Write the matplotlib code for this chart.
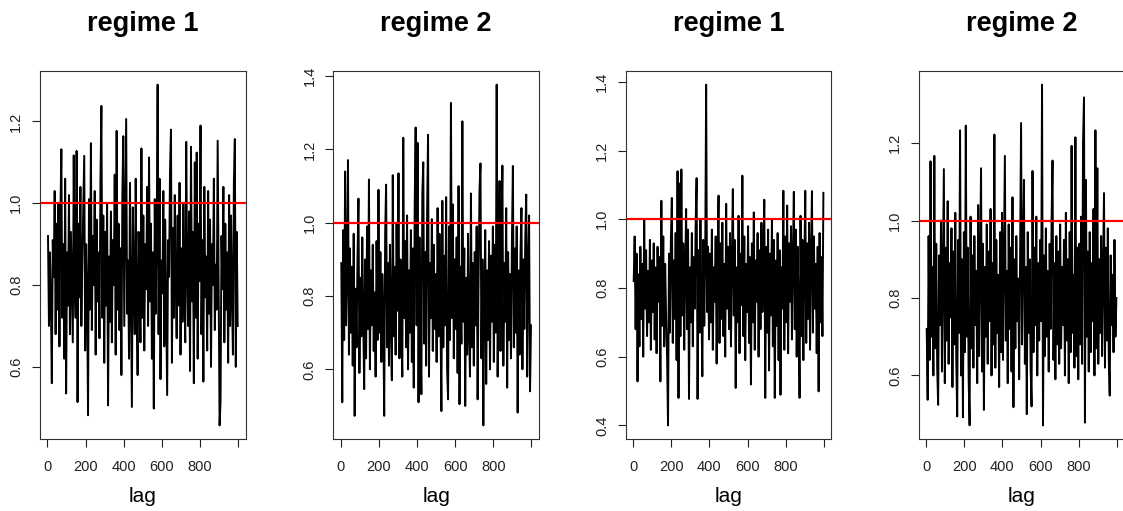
import numpy as np
import matplotlib
matplotlib.use("Agg")
import matplotlib.pyplot as plt
from matplotlib.ticker import MultipleLocator, FormatStrFormatter

plt.rcParams['font.family'] = ['Liberation Sans', 'DejaVu Sans']

# =============================================================================
# data: one value every 5 lags
# =============================================================================
titles = ['regime 1', 'regime 2', 'regime 1', 'regime 2']
lag = np.arange(200) * 5 + 3

trace1 = [
    0.92, 0.70, 0.88, 0.76, 0.56, 0.91, 0.82, 1.03, 0.68, 0.95,
    0.74, 1.00, 0.65, 0.97, 1.132, 0.72, 0.90, 0.62, 1.06, 0.535,
    0.88, 0.75, 1.02, 0.68, 0.93, 0.79, 0.66, 1.117, 0.81, 0.72,
    1.128, 0.514, 0.95, 0.77, 1.04, 0.70, 0.86, 0.99, 1.116, 0.64,
    0.90, 0.78, 0.482, 1.01, 0.74, 1.147, 0.69, 0.92, 0.80, 1.03,
    0.63, 0.96, 0.76, 0.88, 0.67, 1.05, 1.238, 0.72, 0.97, 0.61,
    0.93, 0.75, 1.00, 0.506, 0.87, 0.71, 0.98, 0.66, 0.91, 0.80,
    1.07, 0.63, 1.177, 0.74, 0.95, 0.69, 0.89, 0.58, 1.02, 1.164,
    0.70, 0.94, 1.206, 0.73, 0.86, 0.62, 1.05, 0.77, 0.502, 0.99,
    0.81, 0.68, 1.06, 0.75, 0.58, 0.93, 0.84, 0.66, 1.134, 0.72,
    0.97, 0.64, 0.90, 0.79, 1.04, 0.70, 1.112, 0.76, 0.95, 0.62,
    0.88, 0.498, 1.01, 0.73, 0.92, 1.29, 0.68, 1.06, 0.57, 0.86,
    0.78, 1.03, 0.65, 0.96, 0.74, 0.531, 0.91, 0.82, 1.08, 1.18,
    0.61, 0.94, 0.72, 1.02, 0.80, 0.67, 0.97, 0.75, 1.05, 0.63,
    0.89, 0.71, 1.00, 0.78, 0.66, 1.15, 0.84, 0.70, 0.98, 0.59,
    1.138, 0.76, 0.93, 0.56, 1.10, 0.72, 1.124, 0.62, 0.95, 0.81,
    1.19, 0.68, 0.91, 0.564, 1.04, 0.77, 0.87, 0.64, 1.03, 0.73,
    0.96, 0.60, 0.90, 0.80, 1.06, 0.69, 0.85, 0.74, 1.153, 0.82,
    0.457, 0.514, 0.92, 0.79, 1.04, 0.66, 0.95, 0.74, 0.88, 0.61,
    1.02, 0.70, 0.97, 0.77, 0.63, 1.05, 1.157, 0.60, 0.93, 0.70,
]

trace2 = [
    0.89, 0.51, 0.98, 0.68, 1.14, 0.72, 0.86, 1.171, 0.64, 0.93,
    0.70, 0.88, 0.61, 0.97, 0.473, 0.82, 0.66, 0.91, 1.066, 0.59,
    0.85, 0.69, 0.96, 0.74, 0.546, 0.90, 0.63, 0.99, 0.71, 1.118,
    0.60, 0.87, 0.72, 0.94, 0.65, 0.81, 0.58, 0.95, 0.68, 1.09,
    0.70, 0.92, 0.62, 0.86, 0.75, 0.473, 0.97, 1.104, 0.66, 0.89,
    0.61, 0.94, 0.73, 0.57, 1.13, 0.69, 0.88, 0.64, 1.00, 0.76,
    1.135, 0.63, 0.90, 0.71, 0.58, 1.232, 0.74, 0.95, 0.66, 1.02,
    0.60, 0.87, 0.70, 0.98, 0.62, 0.93, 0.55, 1.05, 1.26, 0.72,
    1.218, 0.51, 0.96, 0.70, 0.532, 1.08, 1.165, 0.67, 0.92, 0.61,
    1.03, 1.24, 0.58, 0.89, 0.74, 1.01, 0.65, 0.94, 0.71, 0.86,
    0.62, 1.04, 0.69, 0.97, 0.75, 0.486, 1.06, 0.66, 0.91, 0.72,
    1.07, 0.60, 0.518, 0.99, 0.68, 1.327, 0.74, 1.05, 0.63, 0.90,
    0.71, 0.96, 0.59, 1.10, 0.505, 0.88, 0.67, 1.277, 0.73, 0.93,
    0.50, 0.85, 0.64, 0.97, 0.70, 0.58, 1.08, 0.66, 0.89, 0.61,
    0.92, 0.72, 0.99, 0.518, 0.84, 1.09, 1.162, 0.63, 0.90, 0.447,
    0.79, 0.98, 0.56, 0.87, 0.68, 0.95, 0.60, 0.91, 0.73, 0.99,
    0.62, 0.94, 0.70, 1.377, 0.58, 0.88, 1.114, 0.65, 0.97, 1.156,
    0.61, 0.89, 0.73, 1.04, 0.55, 0.92, 0.68, 0.86, 0.63, 0.95,
    1.155, 0.66, 0.93, 0.70, 0.99, 0.482, 0.87, 0.64, 0.92, 1.04,
    0.60, 0.90, 0.71, 0.96, 1.077, 0.58, 0.88, 1.02, 0.54, 0.72,
]

trace3 = [
    0.82, 0.95, 0.68, 0.90, 0.528, 0.84, 0.63, 0.92, 0.71, 0.87,
    0.60, 0.999, 0.74, 0.91, 0.66, 0.85, 0.70, 0.94, 0.62, 0.88,
    0.73, 0.93, 0.65, 0.86, 0.61, 0.92, 0.76, 0.89, 0.528, 1.054,
    0.69, 0.95, 0.63, 0.87, 0.72, 0.60, 0.40, 0.90, 0.67, 0.94,
    1.062, 0.64, 0.88, 0.71, 0.96, 0.59, 1.14, 0.48, 1.104, 0.66,
    1.145, 0.72, 0.93, 0.62, 0.85, 1.03, 0.68, 0.97, 0.477, 0.86,
    0.70, 0.96, 0.63, 0.89, 0.74, 0.99, 1.12, 0.477, 0.91, 0.67,
    1.00, 0.75, 0.543, 0.94, 0.69, 0.88, 1.392, 0.73, 0.92, 0.65,
    0.90, 0.70, 0.97, 0.62, 0.86, 0.76, 0.95, 0.58, 0.89, 1.069,
    0.64, 0.93, 0.71, 0.99, 0.66, 0.87, 0.60, 1.045, 0.74, 0.92,
    0.68, 0.96, 0.63, 0.88, 1.088, 0.72, 0.94, 0.509, 0.86, 0.70,
    1.01, 0.61, 0.90, 0.75, 1.127, 0.66, 0.95, 0.59, 0.87, 0.73,
    0.98, 0.64, 0.89, 0.519, 0.93, 0.70, 1.02, 0.62, 0.88, 0.76,
    0.96, 0.60, 0.91, 0.68, 0.99, 0.73, 0.85, 1.057, 0.48, 0.92,
    0.67, 0.97, 0.56, 0.90, 0.72, 1.00, 0.63, 0.94, 0.48, 0.88,
    0.69, 0.96, 0.59, 0.91, 0.489, 0.86, 0.74, 1.083, 0.62, 0.95,
    0.70, 1.04, 0.61, 0.93, 0.76, 0.98, 0.65, 0.89, 1.08, 0.68,
    0.97, 0.60, 0.92, 0.73, 0.48, 1.01, 0.66, 0.94, 0.59, 0.87,
    1.083, 0.64, 0.93, 0.71, 0.99, 0.62, 0.90, 1.082, 0.67, 0.95,
    0.74, 0.87, 0.61, 0.92, 0.499, 0.96, 0.70, 0.89, 0.66, 1.077,
]

trace4 = [
    0.72, 0.537, 0.96, 0.64, 1.153, 0.70, 0.88, 0.60, 1.167, 0.67,
    0.94, 0.62, 0.524, 0.91, 0.73, 1.00, 0.61, 0.86, 1.133, 0.58,
    0.93, 0.69, 1.05, 0.63, 0.89, 0.75, 0.98, 0.57, 0.92, 0.68,
    1.02, 0.64, 0.494, 0.95, 0.71, 1.233, 0.60, 0.90, 0.492, 0.97,
    0.66, 1.245, 0.70, 0.93, 0.59, 0.471, 1.01, 0.67, 0.91, 0.62,
    0.96, 0.73, 0.87, 0.58, 1.04, 0.65, 0.90, 1.135, 0.61, 0.94,
    0.511, 0.88, 0.70, 0.99, 0.63, 0.92, 0.74, 1.03, 0.60, 0.89,
    0.68, 1.222, 0.62, 0.95, 0.71, 0.86, 0.57, 0.97, 0.66, 1.02,
    0.64, 0.91, 1.167, 0.69, 0.87, 0.58, 0.99, 0.72, 0.93, 0.61,
    1.06, 0.518, 0.90, 0.67, 0.96, 0.74, 0.85, 0.59, 0.94, 1.252,
    0.68, 0.92, 1.105, 0.63, 0.88, 0.50, 0.97, 0.71, 0.90, 0.62,
    0.52, 1.128, 0.66, 0.93, 0.73, 1.01, 0.60, 0.89, 0.69, 0.95,
    0.74, 1.351, 0.471, 0.91, 0.65, 0.98, 0.70, 0.87, 0.61, 0.94,
    0.72, 1.00, 1.155, 0.64, 0.89, 0.59, 0.96, 0.68, 0.92, 0.63,
    0.99, 0.67, 0.88, 0.73, 0.95, 0.60, 1.02, 0.69, 0.90, 0.58,
    0.97, 0.66, 1.193, 0.71, 0.86, 0.62, 1.215, 0.65, 0.93, 0.59,
    0.94, 0.68, 1.01, 0.63, 1.20, 1.318, 0.478, 1.105, 0.70, 0.92,
    0.61, 0.97, 0.66, 0.89, 0.74, 1.03, 0.60, 1.233, 0.67, 1.135,
    0.63, 0.90, 0.71, 0.96, 0.65, 0.88, 1.071, 0.62, 0.93, 0.69,
    0.98, 0.64, 0.548, 0.91, 0.73, 0.86, 0.66, 0.95, 0.70, 0.80,
]

traces = [trace1, trace2, trace3, trace4]
ref_line = 1.0
xticks = [0, 200, 400, 600, 800, 1000]
xticklabels = ['0', '200', '400', '600', '800', '']

# =============================================================================
# figure
# =============================================================================
W, H = 1123, 511
fig = plt.figure(figsize=(W / 100, H / 100), dpi=100)

lefts = [40, 333.3, 625.7, 918.7]
ax_w, ax_top, ax_bot = 205.7, 71, 439

for left, title, y in zip(lefts, titles, traces):
    ax = fig.add_axes([left / W, 1 - ax_bot / H, ax_w / W, (ax_bot - ax_top) / H])
    ax.plot(lag, y, color='black', lw=1.4)
    ax.axhline(ref_line, color='red', lw=1.6)

    y = np.asarray(y)
    r = y.max() - y.min()
    ax.set_ylim(y.min() - 0.04 * r, y.max() + 0.04 * r)
    ax.set_xlim(-39, 1040)

    ax.set_xticks(xticks)
    ax.set_xticklabels(xticklabels)
    ax.yaxis.set_major_locator(MultipleLocator(0.2))
    ax.yaxis.set_major_formatter(FormatStrFormatter('%.1f'))
    ax.tick_params(axis='both', direction='out', length=6, width=0.8,
                   labelsize=10.5, colors='#222222')
    ax.tick_params(axis='x', pad=9)
    ax.tick_params(axis='y', pad=6)
    for lab in ax.get_yticklabels():
        lab.set_rotation(90)
        lab.set_va('center')
    for sp in ax.spines.values():
        sp.set_color('#333333')
        sp.set_linewidth(0.8)

    cx = (left + ax_w / 2) / W
    fig.text(cx, 1 - 31 / H, title, ha='center', va='baseline',
             fontsize=19.5, fontweight='bold')
    fig.text(cx, 1 - 502 / H, 'lag', ha='center', va='baseline', fontsize=15)

fig.savefig('out.png', dpi=100)
